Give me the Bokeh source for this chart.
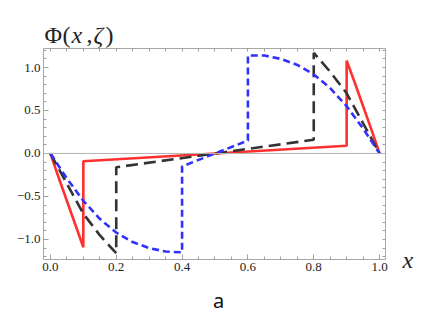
from bokeh.plotting import figure
from bokeh.models import FixedTicker, Range1d, Span, Label, LinearAxis
from bokeh.layouts import column
from bokeh.embed import file_html
from bokeh.resources import INLINE

# --- data ---
x_red = [0.0, 0.025, 0.05, 0.075, 0.1, 0.1, 0.9, 0.9, 0.925, 0.95, 0.975, 1.0]
y_red = [0.0, -0.28, -0.55, -0.82, -1.09, -0.09, 0.09, 1.08, 0.82, 0.55, 0.28, 0.0]

x_black = [0.0, 0.05, 0.1, 0.15, 0.2, 0.2, 0.8, 0.8, 0.85, 0.9, 0.95, 1.0]
y_black = [0.0, -0.35, -0.70, -0.95, -1.16, -0.16, 0.16, 1.17, 0.95, 0.70, 0.35, 0.0]

x_blue = [0.0, 0.05, 0.1, 0.15, 0.2, 0.25, 0.3, 0.35, 0.4, 0.4,
          0.6, 0.6, 0.65, 0.7, 0.75, 0.8, 0.85, 0.9, 0.95, 1.0]
y_blue = [0.0, -0.29, -0.55, -0.76, -0.92, -1.03, -1.10, -1.14, -1.15, -0.15,
          0.15, 1.14, 1.14, 1.10, 1.03, 0.92, 0.76, 0.55, 0.29, 0.0]

x_ticks = [0.0, 0.2, 0.4, 0.6, 0.8, 1.0]
x_tick_labels = ["0.0", "0.2", "0.4", "0.6", "0.8", "1.0"]
x_minor = [round(i * 0.05, 2) for i in range(0, 21)]
y_ticks = [-1.0, -0.5, 0.0, 0.5, 1.0]
y_tick_labels = ["\u22121.0", "\u22120.5", "0.0", "0.5", "1.0"]
y_minor = [round(-1.2 + i * 0.1, 2) for i in range(0, 25)]

W = 417
TITLE_H = 48
MAIN_H = 267
FRAME_L, FRAME_R = 43, 385

# ---- title strip: its frame is aligned with the main frame (43..385) ----
t = figure(width=W, height=TITLE_H, output_backend="svg", toolbar_location=None,
           x_range=Range1d(FRAME_L, FRAME_R), y_range=Range1d(TITLE_H, 0),
           x_axis_location=None, y_axis_location=None,
           min_border_left=FRAME_L, min_border_right=W - FRAME_R,
           min_border_top=0, min_border_bottom=0, outline_line_color=None)
t.xgrid.visible = False
t.ygrid.visible = False
serif = "Liberation Serif"
title_parts = [("\u03a6", 44, "normal"), ("(", 62, "normal"), ("x", 71, "italic"),
               (",", 86, "normal"), ("\u03b6", 93, "italic"), (")", 105, "normal")]
for txt, xx, st in title_parts:
    t.add_layout(Label(x=xx, y=34, text=txt, text_font=serif, text_font_size="24px",
                       text_font_style=st, text_color="#222222",
                       text_baseline="middle", text_align="left"))

# ---- main plot ----
p = figure(width=W, height=MAIN_H, output_backend="svg", toolbar_location=None,
           x_range=Range1d(-0.021, 1.018), y_range=Range1d(-1.233, 1.221),
           min_border_left=FRAME_L, min_border_right=W - FRAME_R, min_border_top=0,
           min_border_bottom=MAIN_H - 211)
p.xgrid.visible = False
p.ygrid.visible = False
p.outline_line_color = "#a8a8a8"
p.outline_line_width = 1

p.add_layout(LinearAxis(), "above")
p.add_layout(LinearAxis(), "right")

tick_color = "#a0a0a0"


def style_axis(ax, ticks, minor, labels, show):
    ax.axis_line_color = None
    ax.major_tick_out = 0
    ax.minor_tick_out = 0
    ax.major_tick_line_color = tick_color
    ax.minor_tick_line_color = tick_color
    if show:
        ax.ticker = FixedTicker(ticks=ticks, minor_ticks=minor)
        ax.major_tick_in = 5
        ax.minor_tick_in = 3
        ax.major_label_overrides = {t_: l for t_, l in zip(ticks, labels)}
        ax.major_label_text_font = "Liberation Serif"
        ax.major_label_text_font_size = "13px"
        ax.major_label_text_color = "#222222"
        ax.major_label_standoff = 3
    else:
        ax.ticker = FixedTicker(ticks=[], minor_ticks=minor)
        ax.minor_tick_in = 3


style_axis(p.below[0], x_ticks, x_minor, x_tick_labels, True)
style_axis(p.left[0], y_ticks, y_minor, y_tick_labels, True)
style_axis(p.above[0], x_ticks, x_minor, x_tick_labels, False)
style_axis(p.right[0], y_ticks, y_minor, y_tick_labels, False)

p.add_layout(Span(location=0, dimension="width", line_color="#b4b4b4", line_width=1))

p.line(x_red, y_red, line_color="#ff3030", line_width=2.6)
p.line(x_black, y_black, line_color="#333333", line_width=2.6, line_dash="12 6")
p.line(x_blue, y_blue, line_color="#3030ff", line_width=2.6, line_dash="7 4")

# canvas coords of the main figure start at page y = TITLE_H
p.add_layout(Label(x=402, y=259 - TITLE_H, x_units="canvas", y_units="canvas", text="x",
                   text_font=serif, text_font_size="24px", text_font_style="italic",
                   text_color="#222222", text_baseline="middle", text_align="left"),
             "right")
p.add_layout(Label(x=218, y=300 - TITLE_H, x_units="canvas", y_units="canvas", text="a",
                   text_font="Noto Sans", text_font_size="20px", text_color="#111111",
                   text_baseline="middle", text_align="center"),
             "below")

layout = column(t, p, spacing=0)
open("out.html", "w").write(file_html(layout, INLINE))
